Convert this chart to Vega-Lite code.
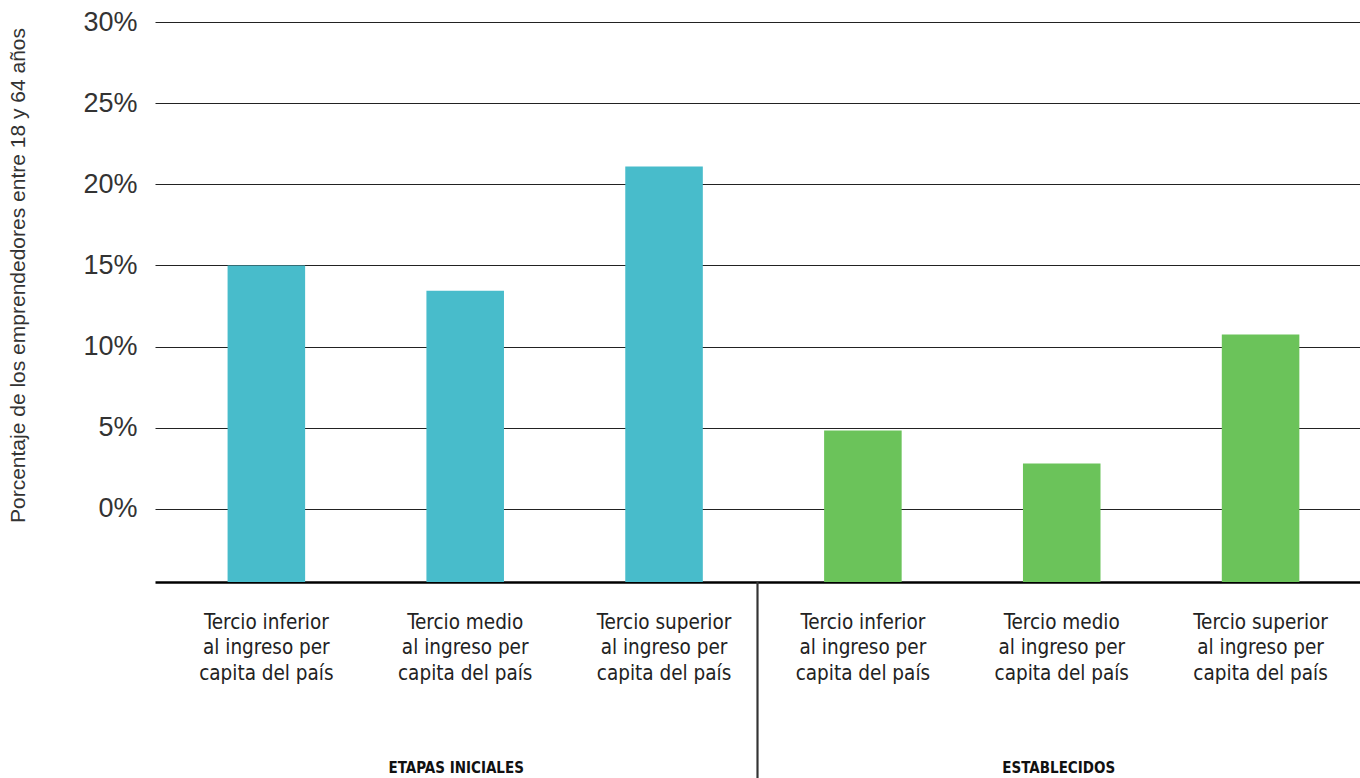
{
  "$schema": "https://vega.github.io/schema/vega-lite/v6.json",
  "width": 1205,
  "height": 560,
  "autosize": {"type": "none"},
  "padding": {"left": 155, "top": 22, "right": 0, "bottom": 196},
  "background": "white",
  "config": {"view": {"stroke": null}},
  "data": {
    "values": [
      {"cat": "EI1|Tercio inferior|al ingreso per|capita del país", "grupo": "ETAPAS INICIALES", "valor": 15.0},
      {"cat": "EI2|Tercio medio|al ingreso per|capita del país", "grupo": "ETAPAS INICIALES", "valor": 13.45},
      {"cat": "EI3|Tercio superior|al ingreso per|capita del país", "grupo": "ETAPAS INICIALES", "valor": 21.1},
      {"cat": "ES1|Tercio inferior|al ingreso per|capita del país", "grupo": "ESTABLECIDOS", "valor": 4.83},
      {"cat": "ES2|Tercio medio|al ingreso per|capita del país", "grupo": "ESTABLECIDOS", "valor": 2.8},
      {"cat": "ES3|Tercio superior|al ingreso per|capita del país", "grupo": "ESTABLECIDOS", "valor": 10.75}
    ]
  },
  "layer": [
    {
      "mark": {"type": "bar", "width": {"band": 0.39}},
      "encoding": {
        "x": {
          "field": "cat",
          "type": "nominal",
          "sort": null,
          "scale": {"paddingInner": 0, "paddingOuter": 0.03, "align": 1},
          "axis": {
            "orient": "bottom",
            "title": null,
            "labelAngle": 0,
            "labelExpr": "slice(split(datum.value, '|'), 1)",
            "labelFont": "DejaVu Sans Condensed",
            "labelFontSize": 20.5,
            "labelColor": "#222222",
            "labelPadding": 30,
            "labelBaseline": "top",
            "labelLineHeight": 25.5,
            "ticks": false,
            "grid": false,
            "domain": true,
            "domainColor": "#000000",
            "domainWidth": 2.5
          }
        },
        "y": {
          "field": "valor",
          "type": "quantitative",
          "scale": {"domain": [-4.5, 30], "nice": false, "zero": false},
          "axis": {
            "values": [0, 5, 10, 15, 20, 25, 30],
            "labelExpr": "datum.value + '%'",
            "grid": true,
            "gridColor": "#222222",
            "gridWidth": 1,
            "domain": false,
            "ticks": false,
            "labelFont": "Liberation Sans",
            "labelFontSize": 27,
            "labelColor": "#333333",
            "labelPadding": 18,
            "title": "Porcentaje de los emprendedores entre 18 y 64 años",
            "titleFont": "Liberation Sans",
            "titleFontSize": 21,
            "titleFontWeight": "normal",
            "titleColor": "#333333",
            "titleX": -137,
            "titleY": 253,
            "titleAngle": -90,
            "titleAlign": "center",
            "titleBaseline": "middle"
          }
        },
        "y2": {"datum": -4.5},
        "color": {
          "field": "grupo",
          "type": "nominal",
          "scale": {"domain": ["ETAPAS INICIALES", "ESTABLECIDOS"], "range": ["#48BCCB", "#6BC35A"]},
          "legend": null
        }
      }
    },
    {
      "transform": [{"filter": "datum.grupo == 'ESTABLECIDOS'"}],
      "mark": {"type": "rule", "color": "#333333", "strokeWidth": 1.5},
      "encoding": {
        "x": {
          "field": "grupo",
          "type": "nominal",
          "bandPosition": 0,
          "scale": {"domain": ["ETAPAS INICIALES", "ESTABLECIDOS"], "paddingInner": 0, "paddingOuter": 0},
          "axis": {
            "orient": "bottom",
            "title": null,
            "labelAngle": 0,
            "domain": false,
            "ticks": false,
            "grid": false,
            "labelFont": "DejaVu Sans Condensed",
            "labelFontWeight": "bold",
            "labelFontSize": 15,
            "labelColor": "#111111",
            "labelPadding": 178,
            "labelBaseline": "top"
          }
        },
        "y": {"datum": -4.5},
        "y2": {"datum": -16.6}
      }
    }
  ],
  "resolve": {"scale": {"x": "independent"}, "axis": {"x": "independent"}}
}
